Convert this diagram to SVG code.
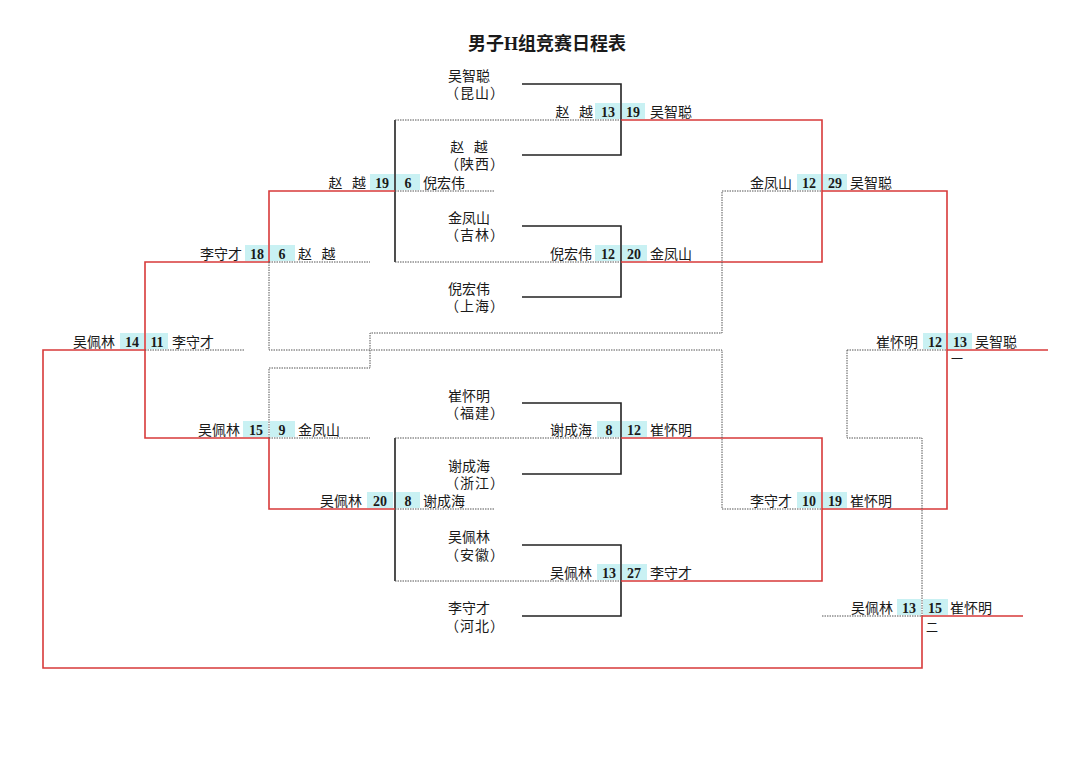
<svg xmlns="http://www.w3.org/2000/svg" width="1080" height="764" viewBox="0 0 1080 764">
<style>
text{font-family:'Liberation Serif','Noto Sans CJK SC',serif;fill:#1a1a1a}
.t{font-size:18px;font-weight:bold;text-anchor:middle}
.n{font-size:14px;word-spacing:6px}
.r{text-anchor:end}
.m{text-anchor:middle}
.pp{letter-spacing:1px}
.s{font-size:14px;font-weight:bold;text-anchor:middle}
.k{font-size:12px}
.box{fill:#c9f1f3}
.red{stroke:#d83a3a;stroke-width:1.6;fill:none}
.blk{stroke:#222;stroke-width:1.6;fill:none}
.dot{stroke:#555;stroke-width:1;stroke-dasharray:1.5 1;fill:none}
</style>
<rect width="1080" height="764" fill="#fff"/>
<g id="title"><text class="t" x="547" y="50">男子H组竞赛日程表</text></g>

<g id="seeds">
<g id="p1"><text class="n m" x="469" y="81">吴智聪</text><text class="n m pp" x="475" y="98">（昆山）</text></g>
<g id="p2"><text class="n m" x="469" y="152">赵 越</text><text class="n m pp" x="475" y="169">（陕西）</text></g>
<g id="p3"><text class="n m" x="469" y="223">金凤山</text><text class="n m pp" x="475" y="240">（吉林）</text></g>
<g id="p4"><text class="n m" x="469" y="294">倪宏伟</text><text class="n m pp" x="475" y="311">（上海）</text></g>
<g id="p5"><text class="n m" x="469" y="401">崔怀明</text><text class="n m pp" x="475" y="418">（福建）</text></g>
<g id="p6"><text class="n m" x="469" y="471">谢成海</text><text class="n m pp" x="475" y="488">（浙江）</text></g>
<g id="p7"><text class="n m" x="469" y="542">吴佩林</text><text class="n m pp" x="475" y="560">（安徽）</text></g>
<g id="p8"><text class="n m" x="469" y="613">李守才</text><text class="n m pp" x="475" y="631">（河北）</text></g>
</g>

<g id="connectors">
<path class="blk" d="M522 84H621V155H522"/>
<path class="blk" d="M522 226H621V297H522"/>
<path class="blk" d="M522 403H621V474H522"/>
<path class="blk" d="M522 545H621V616H522"/>
<path class="blk" d="M395 120V262"/>
<path class="blk" d="M395 438V581"/>
<path class="dot" d="M395 120H621M395 262H621M395 438H621M395 581H621"/>
<path class="dot" d="M395 191H495M395 509H495"/>
<path class="red" d="M621 120H822V262H621"/>
<path class="red" d="M621 438H822V581H621"/>
<path class="red" d="M822 191H947V509H822"/>
<path class="dot" d="M722 191H822M722 509H822"/>
<path class="red" d="M395 191H269V262H145V438H269V509H395"/>
<path class="dot" d="M269 262H370M269 438H370"/>
<path class="red" d="M145 350H43V668H922V616H1023"/>
<path class="dot" d="M145 350H245"/>
<path class="dot" d="M269 262V350H722V509"/>
<path class="dot" d="M269 438V368H370V333H722V191"/>
<path class="red" d="M947 350H1048"/>
<path class="dot" d="M847 350H947M847 350V438H922V616M822 616H922"/>
</g>

<g id="m1"><rect class="box" x="595" y="103" width="25" height="16"/><rect class="box" x="622" y="103" width="23" height="16"/><text class="n r" x="593" y="117">赵 越</text><text class="s" x="608" y="117">13</text><text class="s" x="633" y="117">19</text><text class="n" x="650" y="117">吴智聪</text></g>
<g id="m2"><rect class="box" x="595" y="245" width="25" height="16"/><rect class="box" x="622" y="245" width="25" height="16"/><text class="n r" x="592" y="259">倪宏伟</text><text class="s" x="608" y="259">12</text><text class="s" x="634" y="259">20</text><text class="n" x="650" y="259">金凤山</text></g>
<g id="m3"><rect class="box" x="597" y="421" width="23" height="16"/><rect class="box" x="622" y="421" width="25" height="16"/><text class="n r" x="592" y="435">谢成海</text><text class="s" x="609" y="435">8</text><text class="s" x="634" y="435">12</text><text class="n" x="650" y="435">崔怀明</text></g>
<g id="m4"><rect class="box" x="597" y="564" width="23" height="16"/><rect class="box" x="622" y="564" width="25" height="16"/><text class="n r" x="592" y="578">吴佩林</text><text class="s" x="609" y="578">13</text><text class="s" x="634" y="578">27</text><text class="n" x="650" y="578">李守才</text></g>
<g id="m5"><rect class="box" x="370" y="174" width="24" height="16"/><rect class="box" x="396" y="174" width="24" height="16"/><text class="n r" x="366" y="188">赵 越</text><text class="s" x="382" y="188">19</text><text class="s" x="408" y="188">6</text><text class="n" x="423" y="188">倪宏伟</text></g>
<g id="m6"><rect class="box" x="367" y="492" width="26" height="16"/><rect class="box" x="396" y="492" width="24" height="16"/><text class="n r" x="362" y="506">吴佩林</text><text class="s" x="380" y="506">20</text><text class="s" x="408" y="506">8</text><text class="n" x="423" y="506">谢成海</text></g>
<g id="m7"><rect class="box" x="797" y="174" width="24" height="16"/><rect class="box" x="823" y="174" width="24" height="16"/><text class="n r" x="792" y="188">金凤山</text><text class="s" x="809" y="188">12</text><text class="s" x="835" y="188">29</text><text class="n" x="850" y="188">吴智聪</text></g>
<g id="m8"><rect class="box" x="797" y="492" width="24" height="16"/><rect class="box" x="823" y="492" width="24" height="16"/><text class="n r" x="792" y="506">李守才</text><text class="s" x="809" y="506">10</text><text class="s" x="835" y="506">19</text><text class="n" x="850" y="506">崔怀明</text></g>
<g id="m9"><rect class="box" x="245" y="245" width="23" height="16"/><rect class="box" x="270" y="245" width="25" height="16"/><text class="n r" x="242" y="259">李守才</text><text class="s" x="257" y="259">18</text><text class="s" x="282" y="259">6</text><text class="n" x="298" y="259">赵 越</text></g>
<g id="m10"><rect class="box" x="243" y="421" width="25" height="16"/><rect class="box" x="270" y="421" width="25" height="16"/><text class="n r" x="240" y="435">吴佩林</text><text class="s" x="256" y="435">15</text><text class="s" x="282" y="435">9</text><text class="n" x="298" y="435">金凤山</text></g>
<g id="m11"><rect class="box" x="120" y="333" width="24" height="16"/><rect class="box" x="146" y="333" width="22" height="16"/><text class="n r" x="115" y="347">吴佩林</text><text class="s" x="132" y="347">14</text><text class="s" x="157" y="347">11</text><text class="n" x="172" y="347">李守才</text></g>
<g id="m12"><rect class="box" x="923" y="333" width="23" height="16"/><rect class="box" x="948" y="333" width="24" height="16"/><text class="n r" x="918" y="347">崔怀明</text><text class="s" x="935" y="347">12</text><text class="s" x="960" y="347">13</text><text class="n" x="975" y="347">吴智聪</text><text class="k" x="951" y="364">一</text></g>
<g id="m13"><rect class="box" x="897" y="599" width="24" height="16"/><rect class="box" x="923" y="599" width="25" height="16"/><text class="n r" x="893" y="613">吴佩林</text><text class="s" x="909" y="613">13</text><text class="s" x="935" y="613">15</text><text class="n" x="950" y="613">崔怀明</text><text class="k" x="926" y="632">二</text></g>
</svg>
